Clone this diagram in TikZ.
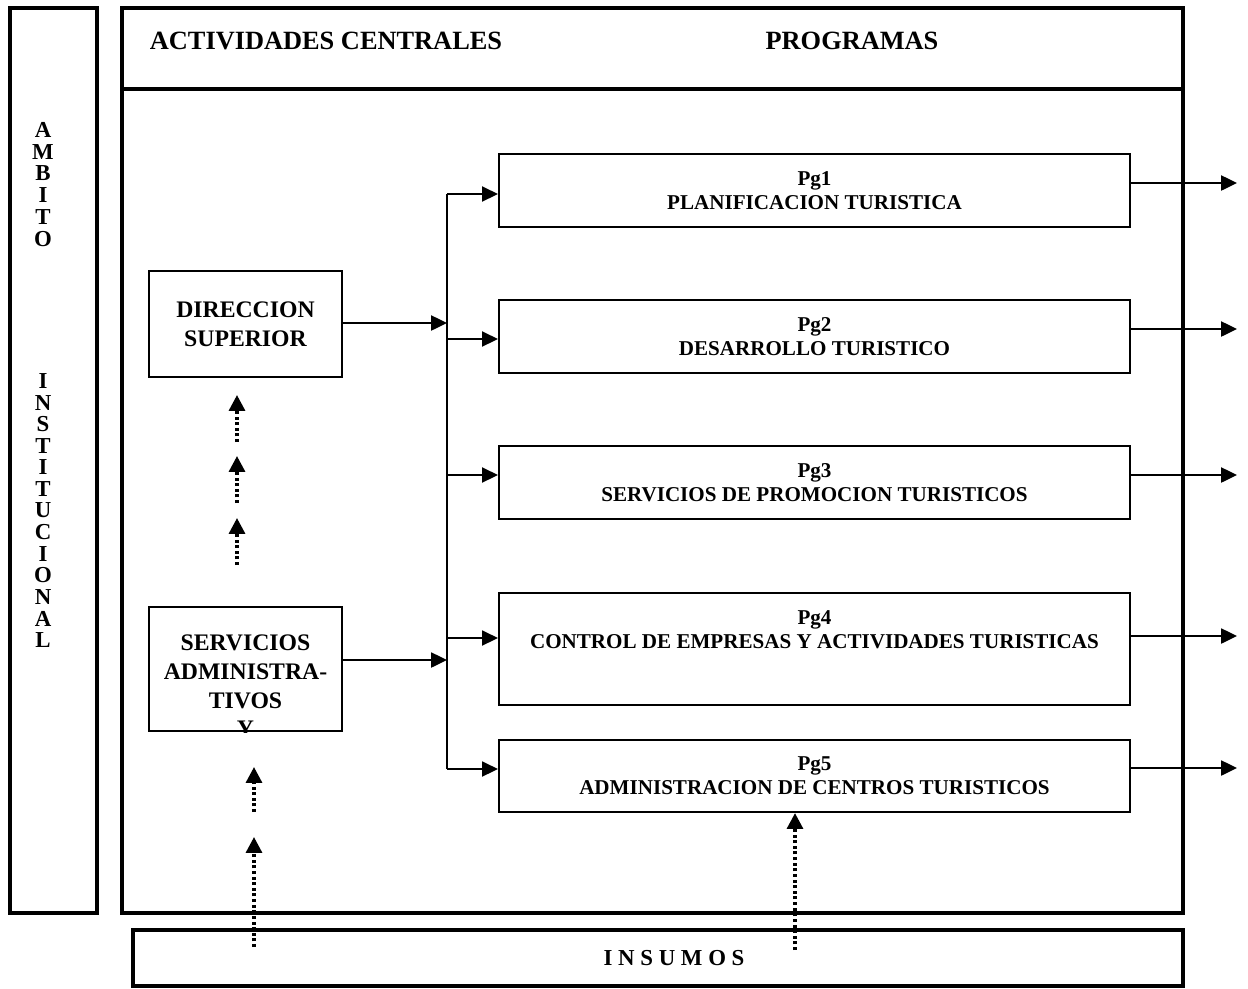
\documentclass[tikz,border=0pt]{standalone}
\usepackage{fontspec}
\setmainfont{Liberation Serif}
\usetikzlibrary{arrows.meta}

\begin{document}
\begin{tikzpicture}[x=0.2mm,y=-0.2mm,
    frame/.style={line width=2.1pt},
    prog/.style={draw,line width=1.2pt,minimum width=126.2mm,minimum height=14.6mm,align=center,inner sep=0pt,font=\fontsize{12}{13.7}\selectfont\bfseries},
    unit/.style={draw,line width=1.3pt,minimum width=38.6mm,align=center,inner sep=0pt,font=\fontsize{13.5}{16.3}\selectfont\bfseries},
    arr/.style={line width=1.2pt,-{Triangle[length=9pt,width=8.5pt]}},
    dotarr/.style={line width=1.9pt,dash pattern=on 1.7pt off 1.5pt,-{Triangle[length=9pt,width=9pt]}},
    lbl/.style={font=\fontsize{13}{14}\selectfont\bfseries}]
  \useasboundingbox (0,0) rectangle (1248,988);
  % outer frames
  \draw[frame] (10,8) rectangle (97,913);
  \draw[frame] (122,8) rectangle (1183,913);
  \draw[frame] (122,89) -- (1183,89);
  \draw[frame] (133,930) rectangle (1183,986);
  % headings
  \node[font=\fontsize{15}{18}\selectfont\bfseries] (hact) at (326,41) {ACTIVIDADES CENTRALES};
  \node[font=\fontsize{15}{18}\selectfont\bfseries] (hprog) at (852,41) {PROGRAMAS};
  \node[font=\fontsize{13}{16}\selectfont\bfseries] (ins) at (674,958) {I N S U M O S};
  % vertical title
  \foreach \l [count=\i] in {A,M,B,I,T,O}
    \node[lbl] (amb\i) at (43,108+21.8*\i) {\l};
  \foreach \l [count=\i] in {I,N,S,T,I,T,U,C,I,O,N,A,L}
    \node[lbl] (inst\i) at (43,359.4+21.6*\i) {\l};
  % central units
  \node[unit,minimum height=21.2mm] (dir) at (245.5,324) {DIRECCION\\SUPERIOR};
  \node[unit,minimum height=24.8mm] (serv) at (245.5,669) {};
  \begin{scope}
    \clip (serv.south west) rectangle (serv.north east);
    \node[align=center,font=\fontsize{13.5}{16.3}\selectfont\bfseries] (servtxt) at (245.5,686) {SERVICIOS\\ADMINISTRA-\\TIVOS\\Y};
  \end{scope}
  % programs
  \node[prog] (pg1) at (814.5,190.5) {Pg1\\PLANIFICACION TURISTICA};
  \node[prog] (pg2) at (814.5,336.5) {Pg2\\DESARROLLO TURISTICO};
  \node[prog] (pg3) at (814.5,482.5) {Pg3\\SERVICIOS DE PROMOCION TURISTICOS};
  \node[prog,minimum height=22.4mm,text depth=22pt] (pg4) at (814.5,649) {Pg4\\CONTROL DE EMPRESAS Y ACTIVIDADES TURISTICAS};
  \node[prog,minimum height=14.4mm] (pg5) at (814.5,776) {Pg5\\ADMINISTRACION DE CENTROS TURISTICOS};
  % bus and branches
  \coordinate (b1) at (447,194);
  \coordinate (b2) at (447,339);
  \coordinate (b3) at (447,475);
  \coordinate (b4) at (447,638);
  \coordinate (b5) at (447,769);
  \draw[line width=1.2pt] (b1) -- (b5);
  \foreach \k in {1,...,5}
    \draw[arr] (b\k) -- (b\k -| pg\k.west);
  \coordinate (dv) at (447,323);
  \coordinate (sv) at (447,660);
  \draw[arr] (dir.east |- dv) -- (dv);
  \draw[arr] (serv.east |- sv) -- (sv);
  % outputs
  \foreach \k/\y in {1/183,2/329,3/475,4/636,5/768} {
    \coordinate (out\k) at (1237,\y);
    \draw[arr] (pg\k.east |- out\k) -- (out\k);
  }
  % inputs
  \foreach \y in {442,503,565}
    \draw[dotarr] (237,\y) -- ++(0,-47);
  \foreach \y/\h in {947/110,812/45}
    \draw[dotarr] (254,\y) -- ++(0,-\h);
  \coordinate (in5) at (795,950);
  \draw[dotarr] (in5) -- (in5 |- pg5.south);
\end{tikzpicture}
\end{document}
